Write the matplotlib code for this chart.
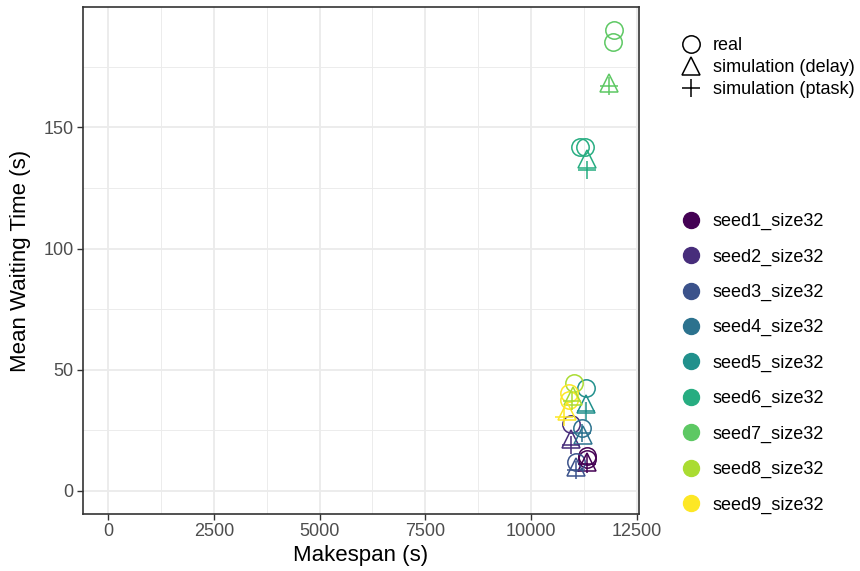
import matplotlib
matplotlib.use("Agg")
import matplotlib.pyplot as plt
from matplotlib.lines import Line2D
from matplotlib.ticker import MultipleLocator

plt.rcParams['font.family'] = ['Liberation Sans', 'DejaVu Sans']

seeds = ["seed1_size32", "seed2_size32", "seed3_size32", "seed4_size32", "seed5_size32",
         "seed6_size32", "seed7_size32", "seed8_size32", "seed9_size32"]
colors = ["#440154", "#472D7B", "#3B528B", "#2C728E", "#21908C",
          "#27AD81", "#5DC863", "#AADC32", "#FDE725"]

# (seed index, makespan, mean waiting time)
real_seed = [0, 0, 1, 2, 3, 4, 5, 5, 6, 6, 7, 8, 8]
real_x = [11340, 11330, 10940, 11080, 11215, 11315, 11172, 11290, 11961, 11937, 11030, 10895, 10900]
real_y = [14.5, 13.0, 27.5, 12.0, 26.0, 42.3, 141.9, 141.9, 190.2, 185.4, 44.5, 40.5, 37.5]

delay_seed = [0, 1, 2, 3, 4, 5, 6, 7, 8]
delay_x = [11340, 10940, 11080, 11240, 11300, 11330, 11843, 10990, 10860]
delay_y = [12.0, 21.5, 10.0, 23.0, 36.0, 137.0, 168.5, 39.0, 33.0]

ptask_seed = [0, 1, 2, 3, 4, 5, 6, 7, 8]
ptask_x = [11340, 10940, 11070, 11220, 11300, 11331, 11843, 10970, 10777]
ptask_y = [11.0, 19.0, 8.5, 24.0, 33.0, 132.5, 167.0, 37.0, 30.5]

shape_labels = ["real", "simulation (delay)", "simulation (ptask)"]

fig = plt.figure(figsize=(8.6, 5.71), dpi=100)
ax = fig.add_axes([83/860, 1-514/571, (639-83)/860, (514-7)/571])

MS_O, MS_T, MS_P, MEW = 12.5, 13.5, 13.5, 1.1
for s, x, y in zip(real_seed, real_x, real_y):
    ax.plot(x, y, marker='o', ms=MS_O, mfc='none', mec=colors[s], mew=MEW, ls='none', zorder=3)
for s, x, y in zip(delay_seed, delay_x, delay_y):
    ax.plot(x, y, marker='^', ms=MS_T, mfc='none', mec=colors[s], mew=MEW, ls='none', zorder=3)
for s, x, y in zip(ptask_seed, ptask_x, ptask_y):
    ax.plot(x, y, marker='+', ms=MS_P, mec=colors[s], mew=MEW, ls='none', zorder=3)

# ggplot-like limits (expand_limits to 0, 5% expansion)
xmin, xmax = 0, max(real_x + delay_x + ptask_x)
ymin, ymax = 0, max(real_y + delay_y + ptask_y)
dx = (xmax - xmin) * 0.05
dy = (ymax - ymin) * 0.05
ax.set_xlim(xmin - dx, xmax + dx)
ax.set_ylim(ymin - dy, ymax + dy)

ax.xaxis.set_major_locator(MultipleLocator(2500))
ax.xaxis.set_minor_locator(MultipleLocator(1250))
ax.yaxis.set_major_locator(MultipleLocator(50))
ax.yaxis.set_minor_locator(MultipleLocator(25))
ax.grid(True, which='major', color='#EBEBEB', lw=1.3, zorder=0)
ax.grid(True, which='minor', color='#EBEBEB', lw=0.65, zorder=0)
ax.set_axisbelow(True)
for sp in ax.spines.values():
    sp.set_color('#333333')
    sp.set_linewidth(1.2)
ax.tick_params(which='major', length=4.3, width=1.0, color='#333333', labelcolor='#4D4D4D',
               labelsize=13, pad=2.5)
ax.tick_params(which='minor', length=0)

ax.set_xlabel("Makespan (s)", fontsize=16, labelpad=3)
ax.set_ylabel("Mean Waiting Time (s)", fontsize=16, labelpad=9)

shape_handles = [
    Line2D([], [], marker='o', ms=MS_O, mfc='none', mec='black', mew=MEW, ls='none'),
    Line2D([], [], marker='^', ms=MS_T, mfc='none', mec='black', mew=MEW, ls='none'),
    Line2D([], [], marker='+', ms=MS_P, mec='black', mew=MEW, ls='none'),
]
leg1 = fig.legend(shape_handles, shape_labels, loc='upper left',
                  bbox_to_anchor=(681/860, 1-37/571), frameon=False, fontsize=13,
                  labelspacing=0.29, handlelength=1.1, handletextpad=0.67,
                  borderpad=0, borderaxespad=0)

color_handles = [Line2D([], [], marker='o', ms=11.5, mfc=c, mec=c, ls='none') for c in colors]
leg2 = fig.legend(color_handles, seeds, loc='upper left',
                  bbox_to_anchor=(681/860, 1-213/571), frameon=False, fontsize=13,
                  labelspacing=1.01, handlelength=1.1, handletextpad=0.67,
                  borderpad=0, borderaxespad=0)

fig.savefig("out.png", dpi=100)
